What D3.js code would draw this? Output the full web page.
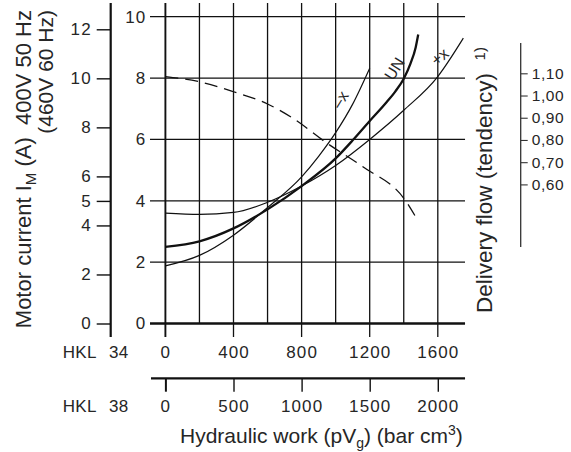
<!DOCTYPE html>
<html><head><meta charset="utf-8">
<script src="https://cdn.jsdelivr.net/npm/d3@7"></script>
<style>
body{margin:0;background:#fff;}
svg text{font-family:"Liberation Sans",Arial,sans-serif;fill:#262626;white-space:pre;}
</style></head><body>
<svg id="c" width="571" height="452"></svg>
<script>
// ---- data ----
const workTicks34 = [0, 400, 800, 1200, 1600];
const workTicks38 = [0, 500, 1000, 1500, 2000];
const gridWork = [0, 200, 400, 600, 800, 1000, 1200, 1400, 1600];
const innerTicks = [0, 2, 4, 6, 8, 10];
const outerTicks = [0, 2, 4, 5, 6, 8, 10, 12];
const flowTicks = [0.6, 0.7, 0.8, 0.9, 1.0, 1.1];
const flowTickLabels = ["0,60", "0,70", "0,80", "0,90", "1,00", "1,10"];

const workMinus = [0, 200, 400, 600, 800, 900, 1000, 1100, 1200];
const currentMinus = [1.88, 2.22, 2.88, 3.78, 4.78, 5.45, 6.22, 7.15, 8.32];
const workNominal = [0, 200, 400, 600, 800, 1000, 1100, 1200, 1300, 1350, 1400, 1440, 1470, 1485];
const currentNominal = [2.5, 2.68, 3.1, 3.72, 4.48, 5.38, 5.97, 6.6, 7.22, 7.56, 7.98, 8.48, 9.0, 9.42];
const workPlus = [0, 200, 400, 600, 800, 1000, 1200, 1400, 1600, 1750];
const currentPlus = [3.6, 3.56, 3.62, 3.95, 4.48, 5.15, 6.0, 6.95, 8.05, 9.3];
const workFlow = [0, 200, 400, 600, 750, 950, 1160, 1415, 1475];
const flowValues = [1.085, 1.062, 1.017, 0.962, 0.897, 0.785, 0.679, 0.522, 0.447];

const curveLabels = [
  {text: "\u2013x", work: 1025, current: 7.3, angle: -58},
  {text: "UN", work: 1345, current: 8.3, angle: -58},
  {text: "+x", work: 1611, current: 8.7, angle: -40}
];

// ---- scales ----
const svg = d3.select("#c");
const x34 = d3.scaleLinear().domain([0, 1600]).range([165.4, 437.8]);
const x38 = d3.scaleLinear().domain([0, 2000]).range([165.4, 437.8]);
const yIn = d3.scaleLinear().domain([0, 10]).range([323.5, 16.7]);
const yOut = d3.scaleLinear().domain([0, 12]).range([323.5, 29.3]);
const yFlow = d3.scaleLinear().domain([0.6, 1.1]).range([184.4, 73.3]);
const gridEnd = 1760;
const ink = "#111";
const fmt = d => String(d);

// ---- grid ----
const grid = svg.append("g");
grid.selectAll("line.v").data(gridWork).join("line")
  .attr("x1", d => x34(d)).attr("x2", d => x34(d))
  .attr("y1", 3).attr("y2", d => d % 400 === 0 ? 337 : yIn(0))
  .attr("stroke", ink).attr("stroke-width", d => d === 0 ? 1.9 : 1.3);
grid.selectAll("line.h").data(innerTicks).join("line")
  .attr("x1", 150).attr("x2", x34(gridEnd))
  .attr("y1", d => yIn(d)).attr("y2", d => yIn(d))
  .attr("stroke", ink).attr("stroke-width", d => d === 0 ? 2.3 : 1.3);

// ---- axes ----
function styleAxis(g, size, ls) {
  g.attr("font-family", null).attr("font-size", size);
  g.selectAll("text").attr("fill", "#262626").attr("letter-spacing", ls);
  g.selectAll(".domain").remove();
}
// outer motor current axis (400V 50Hz)
const gOut = svg.append("g").attr("transform", "translate(110.7,0)")
  .call(d3.axisLeft(yOut).tickValues(outerTicks).tickFormat(fmt).tickSize(14).tickPadding(5));
styleAxis(gOut, 17, 1.1);
gOut.selectAll(".tick line").attr("stroke", ink).attr("stroke-width", 1.4);
gOut.append("line").attr("x1", 0).attr("x2", 0).attr("y1", 3).attr("y2", 337)
  .attr("stroke", ink).attr("stroke-width", 2.2);

// inner axis (460V 60Hz)
const gIn = svg.append("g").attr("transform", "translate(165.4,0)")
  .call(d3.axisLeft(yIn).tickValues(innerTicks).tickFormat(fmt).tickSize(0).tickPadding(19));
styleAxis(gIn, 17, 1.1);

// HKL 34 axis
const g34 = svg.append("g").attr("transform", `translate(0,${yIn(0)})`)
  .call(d3.axisBottom(x34).tickValues(workTicks34).tickFormat(fmt).tickSize(0).tickPadding(22));
styleAxis(g34, 17, 1.1);

// HKL 38 axis
const g38 = svg.append("g").attr("transform", "translate(0,378.3)")
  .call(d3.axisBottom(x38).tickValues(workTicks38).tickFormat(fmt).tickSize(13.4).tickPadding(8.3));
styleAxis(g38, 17, 1.1);
g38.selectAll(".tick line").attr("stroke", ink).attr("stroke-width", (d) => d === 0 ? 2 : 1.4);
g38.append("line").attr("x1", 151).attr("x2", x34(gridEnd)).attr("y1", 0).attr("y2", 0)
  .attr("stroke", ink).attr("stroke-width", 2.2);

// right flow axis
const gR = svg.append("g").attr("transform", "translate(520.7,0)")
  .call(d3.axisRight(yFlow).tickValues(flowTicks)
    .tickFormat((d, i) => flowTickLabels[i]).tickSize(7).tickPadding(4));
styleAxis(gR, 15.5, 0.6);
gR.selectAll(".tick line").attr("stroke", "#333").attr("stroke-width", 1.1);
gR.append("line").attr("x1", 0).attr("x2", 0).attr("y1", 43).attr("y2", 247)
  .attr("stroke", "#333").attr("stroke-width", 1.3);

// HKL row labels
[["HKL", 62.7, 357.8], ["34", 109, 357.8], ["HKL", 62.7, 412.1], ["38", 109, 412.1]].forEach(t => {
  svg.append("text").attr("x", t[1]).attr("y", t[2]).attr("font-size", 17)
    .attr("letter-spacing", 0.3).text(t[0]);
});

// ---- curves ----
const lineCur = (w, c) => d3.line().x(i => x34(w[i])).y(i => yIn(c[i])).curve(d3.curveMonotoneX)(d3.range(w.length));
svg.append("path").attr("d", lineCur(workMinus, currentMinus))
  .attr("fill", "none").attr("stroke", ink).attr("stroke-width", 1.2);
svg.append("path").attr("d", lineCur(workPlus, currentPlus))
  .attr("fill", "none").attr("stroke", ink).attr("stroke-width", 1.2);
svg.append("path").attr("d", lineCur(workNominal, currentNominal))
  .attr("fill", "none").attr("stroke", ink).attr("stroke-width", 2.3);
const flowLine = d3.line().x(i => x34(workFlow[i])).y(i => yFlow(flowValues[i])).curve(d3.curveMonotoneX);
svg.append("path").attr("d", flowLine(d3.range(workFlow.length)))
  .attr("fill", "none").attr("stroke", ink).attr("stroke-width", 1.3)
  .attr("stroke-dasharray", "13,7");

curveLabels.forEach(l => {
  svg.append("text")
    .attr("transform", `translate(${x34(l.work)},${yIn(l.current)}) rotate(${l.angle})`)
    .attr("text-anchor", "middle").attr("dy", "0.35em").attr("font-size", 16).text(l.text);
});

// ---- titles ----
const tx = svg.append("text").attr("x", 180).attr("y", 443.3).attr("font-size", 21);
tx.append("tspan").text("Hydraulic work (pV");
tx.append("tspan").attr("dy", 5).attr("font-size", 14).text("g");
tx.append("tspan").attr("dy", -5).text(") (bar cm");
tx.append("tspan").attr("dy", -8).attr("font-size", 14).text("3");
tx.append("tspan").attr("dy", 8).text(")");

const ty1 = svg.append("text").attr("transform", "translate(30.7,10) rotate(-90)")
  .attr("text-anchor", "end").attr("font-size", 22);
ty1.append("tspan").text("Motor current I");
ty1.append("tspan").attr("dy", 5).attr("font-size", 15).text("M");
ty1.append("tspan").attr("dy", -5).text(" (A)  400V 50 Hz");

svg.append("text").attr("transform", "translate(52.5,10) rotate(-90)")
  .attr("text-anchor", "end").attr("font-size", 21).text("(460V 60 Hz)");

const tr = svg.append("text").attr("transform", "translate(492,313) rotate(-90)")
  .attr("text-anchor", "start").attr("font-size", 22.5);
tr.append("tspan").text("Delivery flow (tendency)  ");
tr.append("tspan").attr("dy", -7).attr("font-size", 15).text("1)");
</script></body></html>
